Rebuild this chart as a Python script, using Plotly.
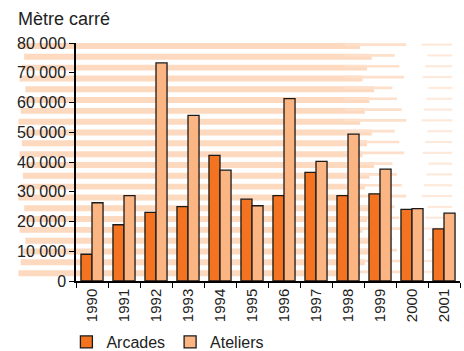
import plotly.graph_objects as go

years = ["1990", "1991", "1992", "1993", "1994", "1995",
         "1996", "1997", "1998", "1999", "2000", "2001"]
arcades = [9000, 18900, 23100, 25000, 42200, 27500,
           28700, 36500, 28700, 29300, 24100, 17500]
ateliers = [26300, 28700, 73300, 55700, 37300, 25300,
            61300, 40200, 49400, 37600, 24300, 22800]

fig = go.Figure()
fig.add_trace(go.Bar(name="Arcades", x=years, y=arcades,
                     marker=dict(color="#F37321", line=dict(color="#1a1a1a", width=1.3))))
fig.add_trace(go.Bar(name="Ateliers", x=years, y=ateliers,
                     marker=dict(color="#FBB583", line=dict(color="#1a1a1a", width=1.3))))

# brush-stroke style background stripes fading out to the right
shapes = []
n = 22
for i in range(n):
    y1 = 1.0 - i / n
    h = 0.025
    jit = ((i * 5) % 7) * 0.006
    shapes.append(dict(type="rect", xref="paper", yref="paper", layer="below",
                       x0=-0.15 + jit * 0.5, x1=0.74 + jit, y0=y1 - h, y1=y1,
                       fillcolor="#FDD9C0", line=dict(width=0)))
    shapes.append(dict(type="rect", xref="paper", yref="paper", layer="below",
                       x0=0.70, x1=0.86 - jit, y0=y1 - h * 0.5, y1=y1 - h * 0.05,
                       fillcolor="#FDDFCA", line=dict(width=0)))
    shapes.append(dict(type="rect", xref="paper", yref="paper", layer="below",
                       x0=0.90 + jit * 0.5, x1=0.98, y0=y1 - h * 0.45, y1=y1 - h * 0.1,
                       fillcolor="#FEE8D9", line=dict(width=0)))

fig.update_layout(
    width=464, height=351,
    margin=dict(l=76, r=4, t=43, b=70),
    paper_bgcolor="white", plot_bgcolor="rgba(0,0,0,0)",
    font=dict(family="Liberation Sans, Arial, sans-serif", size=16, color="#222"),
    barmode="group", bargap=0.31, bargroupgap=0,
    separators=". ",
    shapes=shapes,
    showlegend=True,
    legend=dict(orientation="h", x=-0.025, xanchor="left",
                yref="container", y=0.074, yanchor="top",
                font=dict(size=16), itemwidth=30,
                traceorder="normal"),
    annotations=[dict(text="Mètre carré", xref="paper", yref="paper",
                      x=-0.155, y=1.05, xanchor="left", yanchor="bottom",
                      showarrow=False, font=dict(size=18))],
)
fig.update_yaxes(range=[0, 80000], dtick=10000, tickformat=",d",
                 showgrid=False, zeroline=False, showline=True,
                 linecolor="black", linewidth=1.5, ticks="outside",
                 ticklen=5, tickcolor="black", tickfont=dict(size=16),
                 automargin=False)
fig.update_xaxes(tickangle=-90, showgrid=False, showline=True,
                 linecolor="black", linewidth=1.5, ticks="outside",
                 ticklen=5, tickcolor="black", tickson="boundaries",
                 tickfont=dict(size=15), automargin=False)

fig.write_html("out.html")
